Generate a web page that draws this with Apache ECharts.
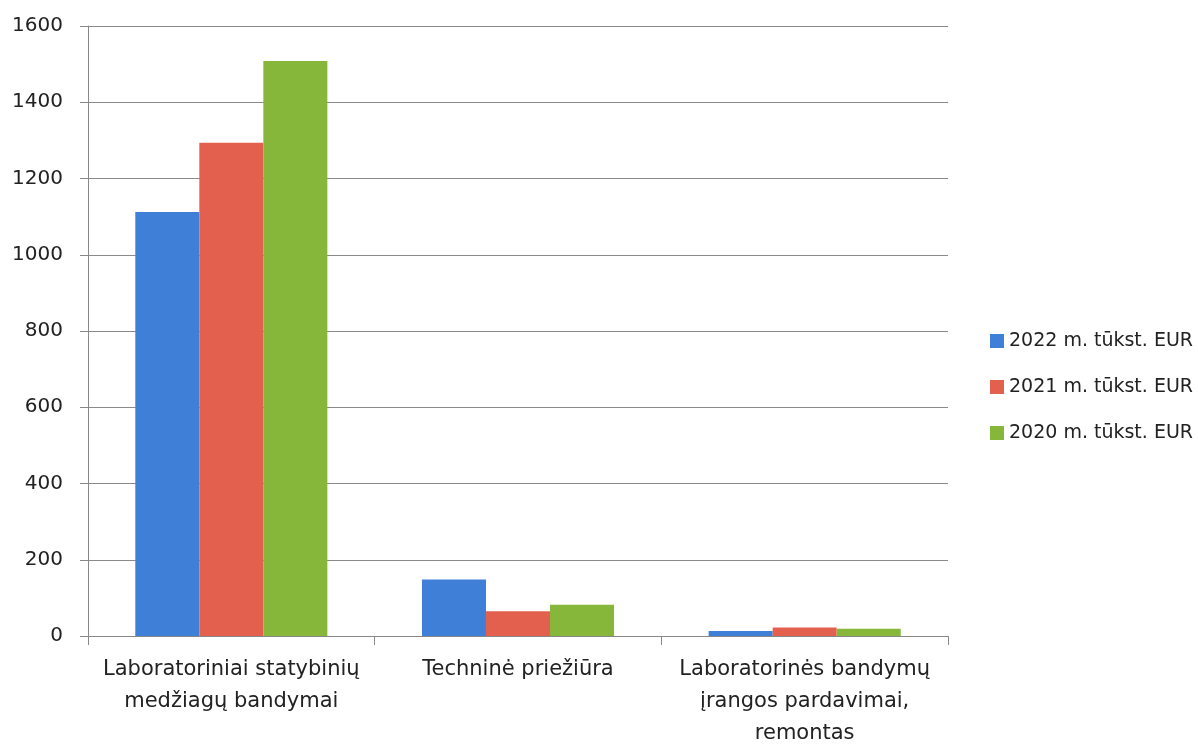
<!DOCTYPE html>
<html><head><meta charset="utf-8">
<script src="https://cdn.jsdelivr.net/npm/echarts@6/dist/echarts.min.js"></script>
<style>html,body{margin:0;padding:0;background:#fff}#c{width:1198px;height:750px}</style>
</head><body><div id="c"></div>
<script>
const categories = ["Laboratoriniai statybinių\nmedžiagų bandymai", "Techninė priežiūra", "Laboratorinės bandymų\nįrangos pardavimai,\nremontas"];
const seriesNames = ["2022 m. tūkst. EUR", "2021 m. tūkst. EUR", "2020 m. tūkst. EUR"];
const values2022 = [1112, 148, 13];
const values2021 = [1294, 65, 22];
const values2020 = [1508, 82, 19];
const yTicks = [0, 200, 400, 600, 800, 1000, 1200, 1400, 1600];
const colors = ["#3f7fd8", "#e3604e", "#86b63a"];
const FONT = "DejaVu Sans";
const chart = echarts.init(document.getElementById('c'), null, {renderer: 'canvas'});
const data = [values2022, values2021, values2020];
chart.setOption({
  animation: false,
  textStyle: {fontFamily: FONT},
  grid: {left: 88, right: 250, top: 26, bottom: 110, containLabel: false},
  legend: {
    orient: 'vertical', left: 990, top: 331, itemWidth: 14, itemHeight: 14, itemGap: 26,
    icon: 'rect', data: seriesNames, padding: 0,
    textStyle: {fontFamily: FONT, fontSize: 19, lineHeight: 20, color: '#222'}
  },
  xAxis: {
    type: 'category', data: categories,
    axisLine: {lineStyle: {color: '#888', width: 1}},
    axisTick: {show: true, length: 9, lineStyle: {color: '#888'}},
    axisLabel: {fontFamily: FONT, fontSize: 21, color: '#222', lineHeight: 32, margin: 18, interval: 0}
  },
  yAxis: {
    type: 'value', min: yTicks[0], max: yTicks[yTicks.length - 1], interval: yTicks[1] - yTicks[0],
    axisLine: {show: true, lineStyle: {color: '#888'}},
    axisTick: {show: true, length: 8, lineStyle: {color: '#888'}},
    splitLine: {lineStyle: {color: '#8a8a8a', width: 1}},
    axisLabel: {fontFamily: FONT, fontSize: 20, color: '#222', margin: 25, formatter: v => String(v)}
  },
  series: seriesNames.map((n, i) => ({
    name: n, type: 'bar', data: data[i], barGap: '0%', barCategoryGap: '33%',
    itemStyle: {color: colors[i]}
  }))
});
</script></body></html>
